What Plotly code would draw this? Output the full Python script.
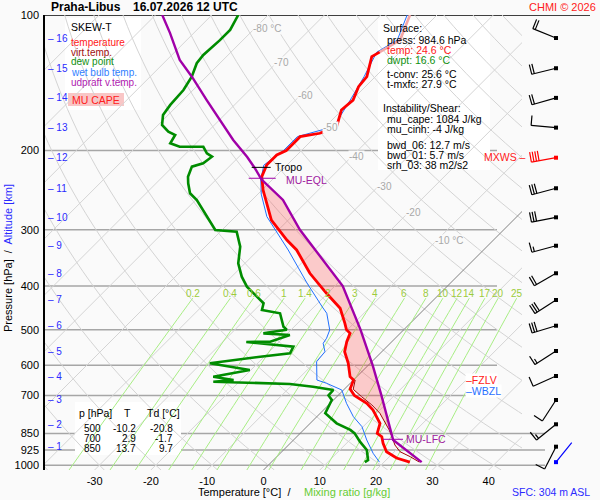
import numpy as np
import plotly.graph_objects as go

# ---------------- sounding values (p in hPa, T in degC) ----------------
temp_p = [100, 113.7, 120.9, 123.7, 137.1, 144.3, 154.5, 162.6, 177.0, 183.1, 186.3, 200, 204.6,
          215.5, 228.7, 244.8, 285.4, 316.1, 332.6, 374.8, 415.1, 448.3, 484, 500, 509.5, 531.8,
          559.7, 593.8, 636, 646.8, 677.3, 700, 728.8, 754.1, 807.2, 835, 850, 864.5, 894.2,
          933.4, 964, 984.6]
temp_t = [-54.8, -52.1, -53.6, -54.2, -51.5, -51.2, -49.8, -50.1, -48.0, -49.8, -52.7, -52.7, -53.6,
          -53.6, -52.4, -49.8, -43.0, -36.7, -33.2, -26.7, -20.2, -15.1, -11.6, -10.2, -8.9, -8.0,
          -6.6, -3.9, -1.2, 0.0, 1.0, 2.9, 6.5, 8.8, 12.4, 13.3, 13.7, 15.1, 16.5,
          18.6, 21.5, 24.6]

dwpt_p = [100, 107.9, 113.7, 122.7, 128, 137.1, 146.8, 158.4, 166.8, 175.5,
          181.6, 184.7, 192.7, 196.2, 196.2, 202.9, 206.4, 213.5, 217.2, 228.7,
          236.5, 248.9, 257.6, 271.1, 300.3, 302.9, 327.1, 356.1, 381.3, 401.4,
          422.4, 436.9, 452.1, 459.8, 492.5, 500, 509.5, 513.8, 531.8, 532.5,
          545.5, 564.3, 574.2, 593.8, 614.6, 636, 646.8, 652.5, 660.2, 669.4,
          680.8, 700, 716.5, 766.9, 807.2, 835, 850, 886.8, 925.4, 974,
          984.6]
dwpt_t = [-85.3, -84.1, -84.1, -84.4, -84.1, -82.6, -81.7, -81.4, -80.9, -79.3,
          -77.0, -75.2, -74.6, -72.3, -68.1, -66.3, -64.8, -65.2, -66.6, -65.5,
          -64.3, -62.2, -59.8, -56.9, -51.2, -47.1, -43.8, -41.2, -38.2, -35.5,
          -32.0, -29.6, -28.7, -24.9, -21.9, -20.8, -24.3, -19.3, -21.6, -25.8,
          -16.6, -16.0, -20.7, -28.5, -20.2, -25.5, -21.3, -24.6, -10.6, -6.0,
          -1.8, -1.7, -0.3, 0.9, 4.7, 8.3, 9.7, 12.1, 14.8, 16.8,
          16.6]

wetb_p = [100, 113.7, 120.9, 137.1, 154.5, 177.0, 186.3, 200, 215.5, 232.5, 250, 280.5, 332.6,
          393.8, 445.3, 459.8, 500.9, 522.5, 536.2, 559.7, 589.1, 646.8, 657.8, 680.8, 728.8,
          780.4, 821.3, 879, 941, 984.6]
wetb_t = [-55.3, -52.6, -54.1, -52.0, -50.3, -48.5, -53.2, -53.2, -54.1, -52.0, -49.4, -44.4, -34.7,
          -25.5, -18.5, -16.6, -13.1, -12.2, -11.9, -10.1, -9.8, -6.5, -4.2, -0.3, 2.9,
          6.5, 9.8, 13.0, 16.5, 19.2]

virt_p = [646.8, 678.3, 704.5, 735, 766.9, 800.6, 835, 864.5, 902, 933.4, 957.6, 984.6]
virt_t = [0.3, 1.6, 4.4, 7.7, 10.6, 13.0, 15.2, 16.9, 18.9, 21.0, 23.7, 26.3]

parcel_p = [100, 109.7, 125.9, 137.3, 154.5, 171.2, 189.5, 206.7, 218.7, 231.8, 257.6, 300,
            332.6, 374.2, 400, 500, 600, 700, 822.6, 879, 984.6]
parcel_t = [-98.8, -94.2, -87.7, -82.5, -75.8, -69.9, -64.0, -58.5, -55.2, -52.0, -44.5, -36.2,
            -29.9, -22.6, -18.6, -7.7, 0.8, 7.7, 14.8, 17.7, 26.7]

pink_top_p = 120.9            # temperature drawn light above this level
lfc_p, eql_p, tropo_p = 876, 230.5, 218
fzlv_p, wbzl_p = 646.8, 684

# altitude scale and winds at every km
alt_km = [16, 15, 14, 13, 12, 11, 10, 9, 8, 7, 6, 5, 4, 3, 2, 1]
alt_p = [112.5, 131.3, 152.8, 177.9, 207.5, 242.6, 281.5, 325.5, 374.7, 429.6, 490, 557.7,
         633.8, 716.5, 811.3, 909.8]
wind_dir = [292, 256, 254, 275, 260, 255, 259, 255, 240, 237, 253, 237, 246, 213, 231, 207]
wind_spd = [20, 20, 20, 10, 40, 30, 30, 15, 20, 30, 30, 15, 10, 10, 15, 10]
mxws_km = 12
sfc_p, sfc_dir, sfc_spd = 984.6, 39, 0

# small table
tab_p = [500, 700, 850]
tab_t = [-10.2, 2.9, 13.7]
tab_td = [-20.8, -1.7, 9.7]

# diagram grid
p_lines = [200, 300, 400, 500, 600, 700, 850, 925, 1000]
p_long = [850, 925, 1000]
iso_lab_t = [-80, -70, -60, -50, -40, -30, -20, -10]
iso_lab_p = [106.9, 127.8, 151.3, 177.4, 206.7, 239.8, 275.3, 316.1]
mix_w = [0.2, 0.4, 0.6, 1, 1.4, 2, 3, 4, 6, 8, 10, 12, 14, 17, 20, 25]
mix_top_p = 425.6

# ---------------- geometry ----------------
W, H = 600, 500
ML, MT, MB = 45, 15, 30
PX_R = 522
GRID_R = 500
T0_PX = 263.5
XS = 5.63
PB, PT = 1025.0, 100.0
YT = np.log(PB / PT)
S = (H - MT - MB) / YT
K = S / XS
FONT = 'Liberation Sans, Arial, sans-serif'
BG = '#fafafa'


def yv(p):
    return np.log(PB / np.asarray(p, dtype=float))


def xv(t, p):
    return np.asarray(t, dtype=float) + K * yv(p)


def fx(px):
    return (px - ML) / (W - ML)


def fy(py):
    return (H - MB - py) / (H - MT - MB)


def t_of_w(w, p):
    e = w * np.asarray(p) / (622.0 + w)
    a = np.log(e / 6.112)
    return 243.5 * a / (17.67 - a)


def path(xs, ys):
    return 'M ' + ' L '.join(f'{a:.4f},{b:.5f}' for a, b in zip(xs, ys))


def interp_t(ps, ts, p):
    return float(np.interp(np.log(p), np.log(ps), ts))


# ---------------- background grid as shapes ----------------
shapes = []
for t in range(-130, 60, 10):
    if t == 0:
        continue
    shapes.append(dict(type='line', xref='x', yref='y', x0=t, y0=0, x1=t + K * YT, y1=YT,
                       line=dict(color='#d4d4d4', width=1), layer='below'))
pg = np.geomspace(PB, PT, 40)
for th in range(-40, 200, 10):
    tt = (th + 273.15) * (pg / 1000.0) ** 0.2857 - 273.15
    shapes.append(dict(type='path', xref='x', yref='y', path=path(xv(tt, pg), yv(pg)),
                       line=dict(color='#d4d4d4', width=1), layer='below'))
shapes.append(dict(type='line', xref='x', yref='y', x0=0, y0=0, x1=K * YT, y1=YT,
                   line=dict(color='#808080', width=1), layer='below'))
shapes.append(dict(type='rect', xref='paper', yref='paper', x0=fx(GRID_R), x1=fx(PX_R) + 0.01,
                   y0=0, y1=1, fillcolor=BG, line=dict(width=0), layer='below'))
pm = np.geomspace(PB, mix_top_p, 25)
for w in mix_w:
    shapes.append(dict(type='path', xref='x', yref='y', path=path(xv(t_of_w(w, pm), pm), yv(pm)),
                       line=dict(color='#a8ee84', width=1), layer='below'))
for p in p_lines:
    x1 = 545 if p in p_long else 497
    shapes.append(dict(type='line', xref='paper', yref='y', x0=0, x1=fx(x1), y0=yv(p), y1=yv(p),
                       line=dict(color='#a6a6a6', width=1.5), layer='below'))
shapes.append(dict(type='line', xref='paper', yref='y', x0=0, x1=fx(590), y0=YT, y1=YT,
                   line=dict(color='black', width=1.5), layer='below'))
# white boxes behind the text blocks
for bx0, by0, bx1, by1 in [(65, 18, 141, 110), (378, 20, 490, 170), (75, 402, 181, 455)]:
    shapes.append(dict(type='rect', xref='paper', yref='paper', x0=fx(bx0), x1=fx(bx1),
                       y0=fy(by1), y1=fy(by0), fillcolor='white', line=dict(width=0), layer='below'))
shapes.append(dict(type='rect', xref='paper', yref='paper', x0=fx(68), x1=fx(124),
                   y0=fy(106), y1=fy(93), fillcolor='#f9c6c6', line=dict(width=0), layer='below'))

# ---------------- traces ----------------
fig = go.Figure()


def seg(ps, ts, p0, p1):
    inner = [(p, t) for p, t in zip(ps, ts) if p0 < p < p1]
    sp = [p0] + [a for a, _ in inner] + [p1]
    st = [interp_t(ps, ts, p0)] + [b for _, b in inner] + [interp_t(ps, ts, p1)]
    return np.array(sp), np.array(st)


env_p = [p for p in temp_p if p < virt_p[0]] + virt_p
env_t = [t for p, t in zip(temp_p, temp_t) if p < virt_p[0]] + virt_t
cp, ct = seg(parcel_p, parcel_t, eql_p, lfc_p)
ep, et = seg(env_p, env_t, eql_p, lfc_p)
fig.add_trace(go.Scatter(x=np.concatenate([xv(ct, cp), xv(et, ep)[::-1]]),
                         y=np.concatenate([yv(cp), yv(ep)[::-1]]),
                         fill='toself', fillcolor='rgba(255,60,60,0.25)', mode='lines',
                         line=dict(width=0), hoverinfo='skip'))


def line(ps, ts, color, width):
    fig.add_trace(go.Scatter(x=xv(ts, ps), y=yv(ps), mode='lines',
                             line=dict(color=color, width=width), hoverinfo='skip'))


line(wetb_p, wetb_t, '#2070ff', 1)
line(dwpt_p, dwpt_t, '#008c00', 2.6)
top = [i for i, p in enumerate(temp_p) if p <= pink_top_p]
low = [i for i, p in enumerate(temp_p) if p >= pink_top_p]
line([temp_p[i] for i in top], [temp_t[i] for i in top], '#f4a6a6', 2.6)
line([temp_p[i] for i in low], [temp_t[i] for i in low], '#ff0000', 2.8)
line(virt_p, virt_t, '#a00000', 1)
line(parcel_p, parcel_t, '#a000a8', 2.4)

# level markers
x_tr = float(xv(interp_t(temp_p, temp_t, tropo_p), tropo_p))
x_eq = float(xv(interp_t(parcel_p, parcel_t, eql_p), eql_p))
x_lf = float(xv(interp_t(parcel_p, parcel_t, lfc_p), lfc_p))
for xc, p, l, r, c in [(x_tr, tropo_p, 14, 5, 'black'), (x_eq, eql_p, 12, 15, '#a000a8'),
                       (x_lf, lfc_p, 10, 10, '#a000a8')]:
    fig.add_trace(go.Scatter(x=[xc - l / XS, xc + r / XS], y=[yv(p)] * 2, mode='lines',
                             line=dict(color=c, width=1), hoverinfo='skip'))

# wind barbs on a second x axis measured in pixels
BARB_X, L, SP = 556, 25, 2.6


def barb(p, d, spd, color):
    r = np.radians(d)
    ux, uy = np.sin(r), np.cos(r)
    fx_, fy_ = np.cos(r), -np.sin(r)
    y0 = float(yv(p))
    xs = [BARB_X, BARB_X + L * ux]
    ys = [y0, y0 + L * uy / S]
    lens = [10] * int(spd // 10) + ([5] if spd % 10 >= 5 else [])
    for i, ln in enumerate(lens):
        dd = L - i * SP
        bx, by = BARB_X + dd * ux, y0 + dd * uy / S
        xs += [None, bx, bx + ln * fx_]
        ys += [None, by, by + ln * fy_ / S]
    fig.add_trace(go.Scatter(x=xs, y=ys, xaxis='x2', yaxis='y', mode='lines',
                             line=dict(color=color, width=1.2), hoverinfo='skip'))
    fig.add_trace(go.Scatter(x=[BARB_X], y=[y0], xaxis='x2', yaxis='y', mode='markers',
                             marker=dict(color=color, size=4, symbol='square'), hoverinfo='skip'))


for km, p, d, s in zip(alt_km, alt_p, wind_dir, wind_spd):
    barb(p, d, s, 'red' if km == mxws_km else 'black')
barb(sfc_p, sfc_dir, sfc_spd, '#0000ff')

# ---------------- texts ----------------
ann = []


def txt(s, px, py, color='black', size=10, xanchor='left', bg=None, bold=False):
    a = dict(text=f'<b>{s}</b>' if bold else s, x=fx(px), y=fy(py), xref='paper', yref='paper',
             showarrow=False, xanchor=xanchor, yanchor='middle', borderpad=0,
             font=dict(color=color, size=size, family=FONT))
    if bg:
        a['bgcolor'] = bg
    ann.append(a)


txt('Praha-Libus', 50, 7, size=12, bold=True)
txt('16.07.2026 12 UTC', 132, 7, size=12, bold=True)
txt('CHMI © 2026', 597, 7, color='#ff2020', size=11, xanchor='right')
txt('SFC: 304 m ASL', 591, 492, color='#2a2aff', size=10.5, xanchor='right')

txt('SKEW-T', 70, 27, size=10.5)
for s, c, yy in [('temperature', '#ff2020', 42), ('virt.temp.', '#a01010', 52),
                 ('dew point', '#109010', 62), ('wet bulb temp.', '#3080ff', 72),
                 ('udpraft v.temp.', '#b020b0', 82)]:
    txt(s, 70, yy, color=c, size=10)
txt('MU CAPE', 96, 100, color='#ff2020', size=10.5, xanchor='center')

right = [('Surface:', 382, 28, 'black'), ('press: 984.6 hPa', 386, 40, 'black'),
         ('temp: 24.6 °C', 386, 50, '#ff2020'), ('dwpt: 16.6 °C', 386, 60, '#109010'),
         ('t-conv: 25.6 °C', 386, 74, 'black'), ('t-mxfc: 27.9 °C', 386, 84, 'black'),
         ('Instability/Shear:', 382, 108, 'black'), ('mu_cape: 1084 J/kg', 386, 119, 'black'),
         ('mu_cinh: -4 J/kg', 386, 129, 'black'), ('bwd_06: 12.7 m/s', 386, 145, 'black'),
         ('bwd_01: 5.7 m/s', 386, 155, 'black'), ('srh_03: 38 m2/s2', 386, 165, 'black')]
for s, px, py, c in right:
    txt(s, px, py, color=c, size=10.5)

txt('p [hPa]', 78, 413, size=10.5)
txt('T', 127, 413, size=10.5, xanchor='center')
txt('Td [°C]', 146, 413, size=10.5)
for i, (p, t, td) in enumerate(zip(tab_p, tab_t, tab_td)):
    yy = 428.5 + 10 * i
    txt(str(p), 102, yy, size=10, xanchor='right')
    txt(f'{t:.1f}', 137, yy, size=10, xanchor='right')
    txt(f'{td:.1f}', 174, yy, size=10, xanchor='right')

txt('Temperature [°C]  /', 197, 492, size=11)
txt('Mixing ratio [g/kg]', 303, 492, color='#66cc33', size=11)
txt('MXWS –', 483, 157, color='#ff2020', size=10.5)

ann.append(dict(text='Pressure [hPa]  /  <span style="color:#2a2aff">Altitude [km]</span>',
                x=fx(8), y=fy(258), xref='paper', yref='paper', showarrow=False, textangle=-90,
                xanchor='center', yanchor='middle', borderpad=0,
                font=dict(size=11, family=FONT, color='black')))

for km, p in zip(alt_km, alt_p):
    ann.append(dict(text=f'– {km}', x=fx(47), y=float(yv(p)), xref='paper', yref='y',
                    showarrow=False, xanchor='left', yanchor='middle', borderpad=0,
                    font=dict(size=10, family=FONT, color='#2a2aff')))

for t, p in zip(iso_lab_t, iso_lab_p):
    s = f'{t} °C' if t in (-80, -10) else f'{t}'
    ann.append(dict(text=s, x=float(xv(t, p)), y=float(yv(p)), xref='x', yref='y',
                    showarrow=False, xanchor='left', yanchor='middle', xshift=-3,
                    bgcolor=BG, borderpad=0, font=dict(size=10, family=FONT, color='#a8a8a8')))

for w in mix_w:
    ann.append(dict(text=f'{w:g}', x=float(xv(t_of_w(w, mix_top_p), mix_top_p)),
                    y=float(yv(mix_top_p)), xref='x', yref='y', showarrow=False,
                    xanchor='center', yanchor='middle', yshift=5, borderpad=0,
                    font=dict(size=10, family=FONT, color='#9ccc3c')))

for s, xc, p, off, dy, c in [('Tropo', x_tr, tropo_p, 8, 0, 'black'),
                             ('MU-EQL', x_eq, eql_p, 24, -2, '#a020a0'),
                             ('MU-LFC', x_lf, lfc_p, 12, 0, '#a020a0')]:
    ann.append(dict(text=s, x=xc + off / XS, y=float(yv(p)), xref='x', yref='y', showarrow=False,
                    xanchor='left', yanchor='middle', yshift=dy, borderpad=0,
                    font=dict(size=10.5, family=FONT, color=c)))

for s, p, c in [('–FZLV', fzlv_p, '#ff2020'), ('–WBZL', wbzl_p, '#2a70ff')]:
    ann.append(dict(text=s, x=fx(465), y=float(yv(p)), xref='paper', yref='y', showarrow=False,
                    xanchor='left', yanchor='middle', bgcolor='white', borderpad=0,
                    font=dict(size=10.5, family=FONT, color=c)))

# ---------------- layout ----------------
p_ticks = [100, 200, 300, 400, 500, 600, 700, 850, 925, 1000]
t_ticks = list(range(-30, 41, 10))
fig.update_layout(
    width=W, height=H, margin=dict(l=ML, r=0, t=MT, b=MB),
    paper_bgcolor=BG, plot_bgcolor=BG, showlegend=False,
    font=dict(family=FONT, size=11, color='black'),
    xaxis=dict(domain=[0, fx(PX_R)], range=[(ML - T0_PX) / XS, (PX_R - T0_PX) / XS],
               tickvals=t_ticks, ticktext=[str(t) for t in t_ticks], ticks='',
               showgrid=False, zeroline=False, showline=False, ticklabelstandoff=3,
               tickfont=dict(size=11)),
    xaxis2=dict(domain=[fx(PX_R), 1], range=[PX_R, W], visible=False, anchor='y'),
    yaxis=dict(range=[0, YT], tickvals=yv(p_ticks).tolist(), ticktext=[str(p) for p in p_ticks],
               ticks='', showgrid=False, zeroline=False, showline=True, linecolor='black',
               linewidth=1.5, ticklabelstandoff=2, tickfont=dict(size=11)),
    shapes=shapes, annotations=ann,
)

fig.write_html("out.html", config={'displayModeBar': False},
               post_script="document.body.style.margin='0px';")
